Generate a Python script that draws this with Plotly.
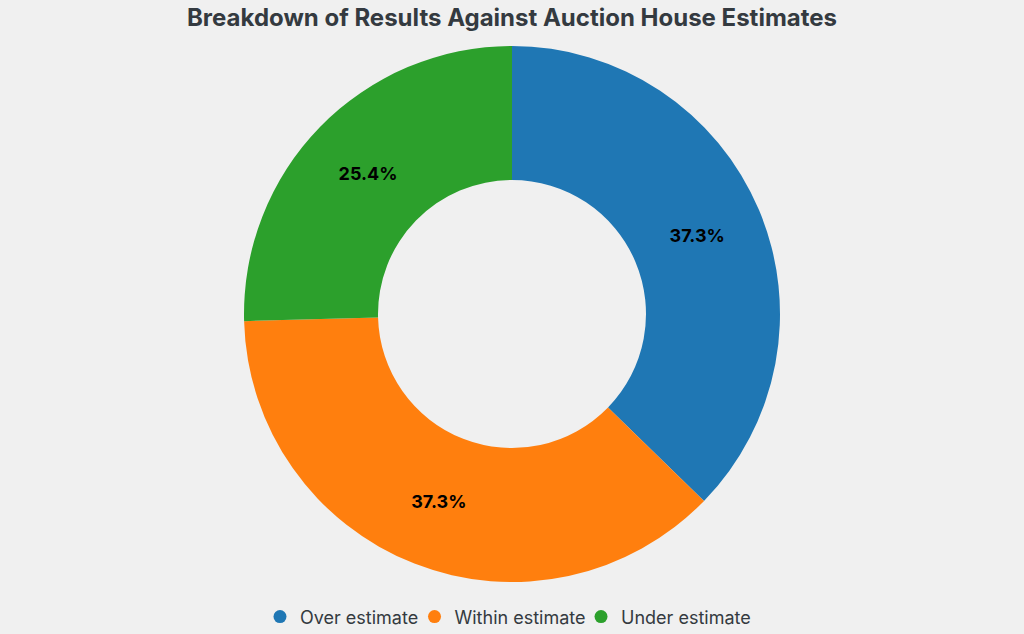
import plotly.graph_objects as go

# Results vs. auction house estimates (counts of lots)
categories = ['Over estimate', 'Within estimate', 'Under estimate']
counts = [22, 22, 15]
colors = ['#1f77b4', '#ff7f0e', '#2ca02c']

fig = go.Figure()

fig.add_trace(go.Pie(
    labels=categories,
    values=counts,
    hole=0.5,
    sort=False,
    direction='clockwise',
    rotation=0,
    marker=dict(colors=colors, line=dict(width=0)),
    textinfo='percent',
    texttemplate='%{percent:.1%}',
    textposition='inside',
    insidetextorientation='horizontal',
    textfont=dict(family='Inter', size=18, color='black', weight='bold'),
    showlegend=False,
    hoverinfo='label+value+percent',
))

# legend entries with round markers, one small legend each so they sit tight together
legend_ids = ['legend', 'legend2', 'legend3']
legend_x = [0.2539, 0.4048, 0.5674]
for name, col, lg in zip(categories, colors, legend_ids):
    fig.add_trace(go.Scatter(
        x=[None], y=[None],
        mode='markers',
        name=name,
        legend=lg,
        marker=dict(color=col, size=13, symbol='circle'),
        showlegend=True,
    ))

fig.update_layout(
    title=dict(
        text='<b>Breakdown of Results Against Auction House Estimates</b>',
        x=0.5, xanchor='center', y=0.972, yanchor='middle',
        font=dict(family='Inter', size=24, color='#343a40'),
    ),
    paper_bgcolor='#f0f0f0',
    plot_bgcolor='#f0f0f0',
    font=dict(family='Inter', color='#343a40'),
    margin=dict(t=46, b=52, l=20, r=20),
    xaxis=dict(visible=False),
    yaxis=dict(visible=False),
    width=1024,
    height=634,
)

for lg, lx in zip(legend_ids, legend_x):
    fig.update_layout({lg: dict(
        orientation='h',
        xref='container', x=lx, xanchor='left',
        yref='container', y=0.027, yanchor='middle',
        font=dict(family='Inter', size=18, color='#343a40'),
        itemwidth=30,
        bgcolor='rgba(0,0,0,0)',
    )})

# no page margin around the figure
fig.write_html('out.html', config={'displayModeBar': False},
               post_script="document.body.style.margin='0';")
